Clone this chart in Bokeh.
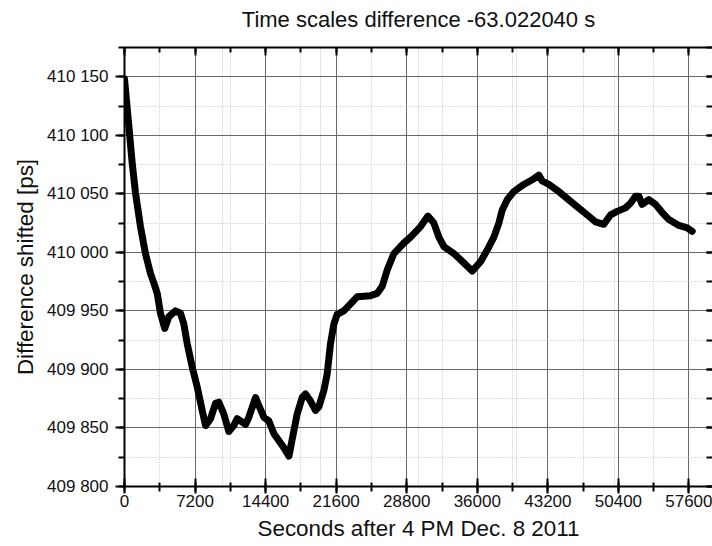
from bokeh.plotting import figure
from bokeh.models import Range1d, LinearAxis, SingleIntervalTicker, CustomJSTickFormatter, Grid
from bokeh.embed import file_html
from bokeh.resources import INLINE

title_text = "Time scales difference -63.022040 s"
x_label = "Seconds after 4 PM Dec. 8 2011"
y_label = "Difference shifted [ps]"

seconds = [0, 440, 790, 1120, 1630, 2140, 2650, 2990, 3340, 3670, 4110, 4520,
           5200, 5710, 6050, 6400, 6910, 7420, 7930, 8270, 8780, 9290, 9620,
           10130, 10650, 11150, 11500, 12350, 12680, 13370, 13710, 14230, 14730,
           15250, 15760, 16270, 16780, 17290, 17620, 18130, 18470, 18980, 19490,
           19830, 20340, 20680, 21020, 21370, 21700, 22380, 23060, 23740, 25100,
           25790, 26300, 26810, 27490, 28510, 29190, 30210, 30960, 31570, 32080,
           32590, 33610, 34630, 35480, 36330, 37010, 37690, 38200, 38540, 39050,
           39730, 40750, 41600, 42280, 42620, 43300, 44150, 45170, 46190, 47210,
           48060, 48910, 49590, 50270, 51120, 51630, 52140, 52480, 52820, 53500,
           54180, 54870, 55550, 56570, 57420, 57930]
difference_ps = [410148, 410108, 410076, 410051, 410022, 409999, 409982, 409974,
                 409965, 409948, 409935, 409945, 409950, 409948, 409939, 409922,
                 409902, 409885, 409865, 409852, 409858, 409871, 409872, 409862,
                 409847, 409852, 409858, 409853, 409859, 409876, 409869, 409859,
                 409856, 409845, 409839, 409833, 409826, 409848, 409862, 409876,
                 409879, 409873, 409865, 409868, 409882, 409896, 409922, 409939,
                 409947, 409950, 409956, 409962, 409963, 409965, 409971, 409985,
                 409999, 410008, 410013, 410022, 410031, 410025, 410013, 410005,
                 409999, 409991, 409984, 409992, 410002, 410013, 410025, 410036,
                 410045, 410052, 410058, 410062, 410066, 410061, 410058, 410053,
                 410046, 410039, 410032, 410026, 410024, 410032, 410035, 410038,
                 410042, 410048, 410048, 410041, 410045, 410041, 410034, 410028,
                 410023, 410021, 410018]

x_start, x_end, x_step = 0, 60000, 7200
y_start, y_end, y_step = 409800, 410175, 50

FONT = "Liberation Sans"

p = figure(width=712, height=546, output_backend="svg", toolbar_location=None,
           x_range=Range1d(x_start, x_end), y_range=Range1d(y_start, y_end),
           min_border_left=124, min_border_right=0, min_border_top=47,
           min_border_bottom=60, x_axis_location=None, y_axis_location=None,
           background_fill_color="white", border_fill_color="white")
p.outline_line_color = None

def ticker_x():
    return SingleIntervalTicker(interval=x_step, num_minor_ticks=2)

def ticker_y():
    return SingleIntervalTicker(interval=y_step, num_minor_ticks=2)

fmt_y = CustomJSTickFormatter(code="""
return Math.round(tick).toString().replace(/\\B(?=(\\d{3})+(?!\\d))/g, ' ');
""")
fmt_blank = CustomJSTickFormatter(code="return '';")

def style(ax, labels=True):
    ax.axis_line_color = "black"
    ax.axis_line_width = 2
    ax.major_tick_line_color = "black"
    ax.minor_tick_line_color = "black"
    ax.major_tick_line_width = 2
    ax.minor_tick_line_width = 2
    ax.axis_label_text_font = FONT
    ax.axis_label_text_font_size = "22.4px"
    ax.axis_label_text_font_style = "normal"
    ax.axis_label_text_color = "#111111"
    if labels:
        ax.major_label_text_font = FONT
        ax.major_label_text_font_size = "17px"
        ax.major_label_text_color = "#111111"
    else:
        ax.formatter = fmt_blank
        ax.major_label_standoff = 0

xb = LinearAxis(ticker=ticker_x(), axis_label=x_label)
style(xb)
xb.major_tick_in = 8
xb.major_tick_out = 7
xb.minor_tick_in = 4
xb.minor_tick_out = 5
xb.major_label_standoff = 1
xb.axis_label_standoff = 6
p.add_layout(xb, "below")

yl = LinearAxis(ticker=ticker_y(), axis_label=y_label, formatter=fmt_y)
style(yl)
yl.major_tick_in = 0
yl.major_tick_out = 9
yl.minor_tick_in = 0
yl.minor_tick_out = 6
yl.major_label_standoff = 7
yl.axis_label_standoff = 6
p.add_layout(yl, "left")

# top axis carries the chart title as its label
xt = LinearAxis(ticker=ticker_x(), axis_label=title_text)
style(xt, labels=False)
xt.axis_label_text_font_size = "22px"
xt.axis_label_standoff = 16
xt.major_tick_in = 8
xt.major_tick_out = 0
xt.minor_tick_in = 5
xt.minor_tick_out = 0
p.add_layout(xt, "above")

yr = LinearAxis(ticker=ticker_y())
style(yr, labels=False)
yr.axis_line_color = None
yr.major_tick_in = 6
yr.major_tick_out = 0
yr.minor_tick_in = 6
yr.minor_tick_out = 0
p.add_layout(yr, "right")

gx = Grid(dimension=0, ticker=xb.ticker)
gy = Grid(dimension=1, ticker=yl.ticker)
for g in (gx, gy):
    g.grid_line_color = "#6a6a6a"
    g.grid_line_width = 1
    g.minor_grid_line_color = "#bdbdbd"
    g.minor_grid_line_width = 1
    g.minor_grid_line_dash = "1 2"
    p.add_layout(g)

p.line(seconds, difference_ps, line_color="black", line_width=7,
       line_join="round", line_cap="round")

open("out.html", "w").write(file_html(p, INLINE))
